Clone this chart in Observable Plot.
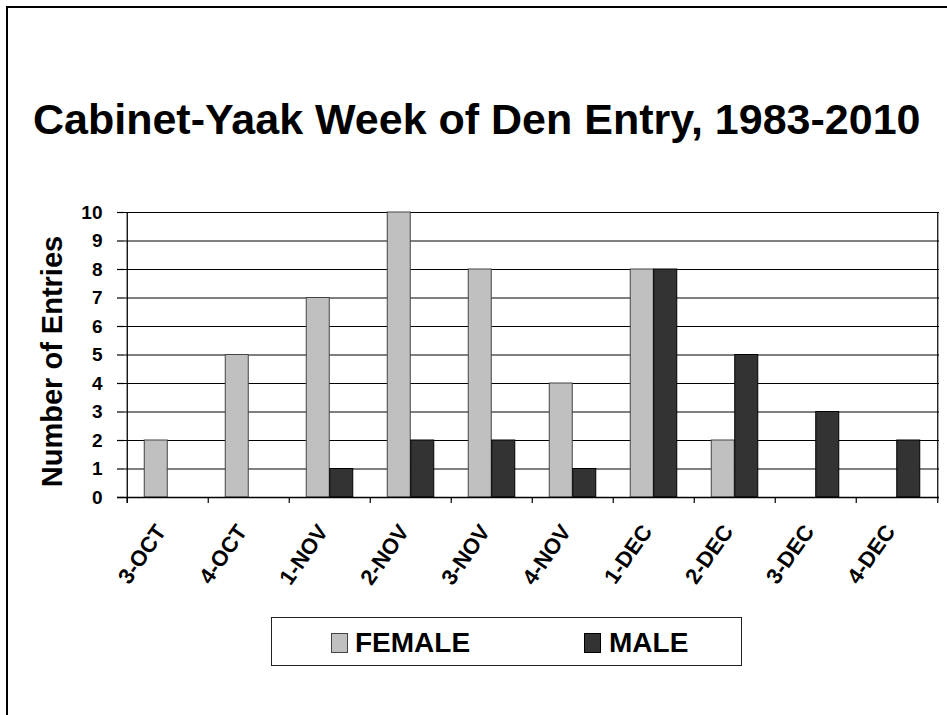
<!DOCTYPE html>
<html>
<head>
<meta charset="utf-8">
<script src="https://cdn.jsdelivr.net/npm/d3@7"></script>
<script src="https://cdn.jsdelivr.net/npm/@observablehq/plot@0.6"></script>
<style>
  html, body { margin: 0; padding: 0; background: #fff; overflow: hidden; width: 947px; height: 715px; }
  body { position: relative; font-family: "Liberation Sans", Arial, sans-serif; }
  #frame { position: absolute; left: 6px; top: 6px; width: 1200px; height: 1200px;
           border-left: 2px solid #000; border-top: 2px solid #000; box-sizing: border-box; }
  #title { position: absolute; left: 33px; top: 98px; font-size: 43px; line-height: 43px;
           font-weight: bold; color: #000; white-space: nowrap; }
  #chart { position: absolute; left: 0; top: 0; }
  #legendBox { position: absolute; left: 271px; top: 617px; width: 471px; height: 49px;
               border: 1.5px solid #222; box-sizing: border-box; background: #fff; }
  .sw { position: absolute; width: 17px; height: 20px; box-sizing: border-box; }
  .lt { position: absolute; font-size: 28px; line-height: 28px; font-weight: bold; color: #000; white-space: nowrap; }
</style>
</head>
<body>
<div id="chart"></div>
<div id="frame"></div>
<div id="title"></div>
<div id="legend"></div>
<script>
// ---- data ----
const titleText = "Cabinet-Yaak Week of Den Entry, 1983-2010";
const yLabel = "Number of Entries";
const categories = ["3-OCT", "4-OCT", "1-NOV", "2-NOV", "3-NOV", "4-NOV", "1-DEC", "2-DEC", "3-DEC", "4-DEC"];
const female = [2, 5, 7, 10, 8, 4, 8, 2, 0, 0];
const male = [0, 0, 1, 2, 2, 1, 8, 5, 3, 2];
const yTicks = [0, 1, 2, 3, 4, 5, 6, 7, 8, 9, 10];
const gridTicks = [1, 2, 3, 4, 5, 6, 7, 8, 9, 10];
const seriesNames = ["FEMALE", "MALE"];
const seriesColors = ["#C0C0C0", "#333333"];
const seriesStrokes = ["#444444", "#000000"];

// ---- layout ----
const W = 947, H = 715;
const mL = 124, mR = 8, mT = 212, mB = 218;
const bw = (W - mL - mR) / categories.length;
const barW = 23.5;

const femaleRows = categories.map((c, i) => ({week: c, count: female[i]})).filter(d => d.count > 0);
const maleRows = categories.map((c, i) => ({week: c, count: male[i]})).filter(d => d.count > 0);

const chart = Plot.plot({
  width: W, height: H,
  marginLeft: mL, marginRight: mR, marginTop: mT, marginBottom: mB,
  style: {background: "transparent", fontFamily: "'Liberation Sans', Arial, sans-serif", color: "#000"},
  x: {domain: categories, padding: 0, axis: null},
  y: {domain: [0, 10], axis: null},
  marks: [
    Plot.ruleY(gridTicks, {stroke: "#000", strokeWidth: 1}),
    Plot.barY(femaleRows, {x: "week", y: "count", fill: seriesColors[0], stroke: seriesStrokes[0], strokeWidth: 1,
      insetLeft: bw / 2 - barW, insetRight: bw / 2}),
    Plot.barY(maleRows, {x: "week", y: "count", fill: seriesColors[1], stroke: seriesStrokes[1], strokeWidth: 1,
      insetLeft: bw / 2, insetRight: bw / 2 - barW}),
    // zero line (extends into the tick)
    Plot.ruleY([0], {stroke: "#000", strokeWidth: 1.3, insetLeft: -7}),
    // y ticks
    Plot.tickY(yTicks, {y: d => d, frameAnchor: "left", stroke: "#000", strokeWidth: 1.2, insetLeft: -7, insetRight: W - mL - mR}),
    // x ticks at band edges
    Plot.ruleX(categories, {x: d => d, dx: -bw / 2, y1: 0, y2: 0, insetBottom: -6, stroke: "#000", strokeWidth: 1.2}),
    // left axis line
    Plot.ruleX([categories[0]], {x: d => d, dx: -bw / 2, y1: 10, y2: 0, insetBottom: -6, stroke: "#000", strokeWidth: 1.3}),
    // right plot border
    Plot.ruleX([categories[categories.length - 1]], {x: d => d, dx: bw / 2, y1: 10, y2: 0, insetBottom: -6, stroke: "#000", strokeWidth: 1.2}),
    // y tick labels
    Plot.text(yTicks, {y: d => d, text: d => String(d), frameAnchor: "left", textAnchor: "end", dx: -22,
      fontSize: 19, fontWeight: "bold", fill: "#000"}),
    // x tick labels
    Plot.text(categories, {x: d => d, y: () => 0, text: d => d, rotate: -55, textAnchor: "end", lineAnchor: "bottom",
      dx: -1, dy: 34, fontSize: 22, fontWeight: "bold", fill: "#000"}),
    Plot.text([yLabel], {text: d => d, frameAnchor: "left", rotate: -90, textAnchor: "middle", lineAnchor: "bottom",
      dx: -63, dy: 6.5, fontSize: 29, fontWeight: "bold", fill: "#000"})
  ]
});
document.getElementById("chart").appendChild(chart);
document.getElementById("title").textContent = titleText;

// ---- legend ----
const legend = document.getElementById("legend");
const box = document.createElement("div");
box.id = "legendBox";
legend.appendChild(box);
const swX = [331, 584], txX = [355, 609];
seriesNames.forEach((name, i) => {
  const sw = document.createElement("div");
  sw.className = "sw";
  sw.style.left = swX[i] + "px";
  sw.style.top = "633px";
  sw.style.background = seriesColors[i];
  sw.style.border = "1px solid " + seriesStrokes[i];
  legend.appendChild(sw);
  const t = document.createElement("div");
  t.className = "lt";
  t.style.left = txX[i] + "px";
  t.style.top = "629px";
  t.textContent = name;
  legend.appendChild(t);
});
</script>
</body>
</html>
